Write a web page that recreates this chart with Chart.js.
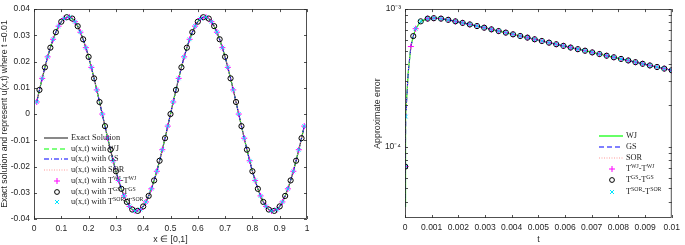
<!DOCTYPE html>
<html><head><meta charset="utf-8">
<script src="https://cdn.jsdelivr.net/npm/chart.js@4/dist/chart.umd.min.js"></script>
<style>
html,body{margin:0;padding:0;background:#fff;}
#wrap{position:relative;width:685px;height:245px;overflow:hidden;background:#fff;}
canvas{position:absolute;top:0;}
.legend{position:absolute;font-family:"Liberation Serif","Times New Roman",serif;font-size:8.3px;color:#262626;}
.row{position:absolute;left:0;height:10px;white-space:nowrap;}
.row svg{position:absolute;left:0;top:0;overflow:visible;}
.row span{position:absolute;top:0;line-height:10px;}
.row sup{font-size:5.8px;line-height:1;vertical-align:3px;}
</style></head>
<body><div id="wrap">
<canvas id="c1" width="340" height="245" style="left:0;width:340px;height:245px"></canvas>
<canvas id="c2" width="340" height="245" style="left:345px;width:340px;height:245px"></canvas>
<div class="legend" id="leg1" style="left:44px;top:133px;"></div>
<div class="legend" id="leg2" style="left:599px;top:131px;"></div>
</div>
<script>
// ---------- left panel data ----------
const xPos = [0.01,0.02,0.03,0.04,0.05,0.06,0.07,0.08,0.09,0.10,0.11,0.12,0.13,0.14,0.15,0.16,0.17,0.18,0.19,0.20,
0.21,0.22,0.23,0.24,0.25,0.26,0.27,0.28,0.29,0.30,0.31,0.32,0.33,0.34,0.35,0.36,0.37,0.38,0.39,0.40,
0.41,0.42,0.43,0.44,0.45,0.46,0.47,0.48,0.49,0.50,0.51,0.52,0.53,0.54,0.55,0.56,0.57,0.58,0.59,0.60,
0.61,0.62,0.63,0.64,0.65,0.66,0.67,0.68,0.69,0.70,0.71,0.72,0.73,0.74,0.75,0.76,0.77,0.78,0.79,0.80,
0.81,0.82,0.83,0.84,0.85,0.86,0.87,0.88,0.89,0.90,0.91,0.92,0.93,0.94,0.95,0.96,0.97,0.98,0.99];
const uExact = [0.0046,0.0092,0.0136,0.0178,0.0218,0.0253,0.0285,0.0312,0.0335,0.0352,0.0364,0.0369,0.0369,0.0364,0.0352,0.0335,0.0312,0.0285,0.0253,0.0218,
0.0178,0.0136,0.0092,0.0046,0,-0.0046,-0.0092,-0.0136,-0.0178,-0.0218,-0.0253,-0.0285,-0.0312,-0.0335,-0.0352,-0.0364,-0.0369,-0.0369,-0.0364,-0.0352,
-0.0335,-0.0312,-0.0285,-0.0253,-0.0218,-0.0178,-0.0136,-0.0092,-0.0046,0,0.0046,0.0092,0.0136,0.0178,0.0218,0.0253,0.0285,0.0312,0.0335,0.0352,
0.0364,0.0369,0.0369,0.0364,0.0352,0.0335,0.0312,0.0285,0.0253,0.0218,0.0178,0.0136,0.0092,0.0046,0,-0.0046,-0.0092,-0.0136,-0.0178,-0.0218,
-0.0253,-0.0285,-0.0312,-0.0335,-0.0352,-0.0364,-0.0369,-0.0369,-0.0364,-0.0352,-0.0335,-0.0312,-0.0285,-0.0253,-0.0218,-0.0178,-0.0136,-0.0092,-0.0046];
const xTicks = [0,0.1,0.2,0.3,0.4,0.5,0.6,0.7,0.8,0.9,1];
const uTicks = [-0.04,-0.03,-0.02,-0.01,0,0.01,0.02,0.03,0.04];

// ---------- right panel data ----------
const tMark = [0.00001,0.00003,0.00022,0.00031,0.0004,0.00059,0.00085,0.00108,0.00135,0.00162,0.00189,0.00216,0.00243,0.0027,0.00297,
0.00324,0.00351,0.00378,0.00405,0.00432,0.00459,0.00486,0.00513,0.0054,0.00567,0.00594,0.00621,0.00648,0.00675,0.00702,
0.00729,0.00756,0.00783,0.0081,0.00837,0.00864,0.00891,0.00918,0.00945,0.00972,0.01];
const errMark = [7.2e-5,1.66e-4,5.35e-4,6.37e-4,7.21e-4,8.15e-4,8.53e-4,8.59e-4,8.53e-4,8.36e-4,8.15e-4,7.94e-4,7.74e-4,7.53e-4,7.33e-4,
7.13e-4,6.93e-4,6.75e-4,6.56e-4,6.38e-4,6.21e-4,6.04e-4,5.87e-4,5.71e-4,5.56e-4,5.41e-4,5.26e-4,5.12e-4,4.99e-4,4.85e-4,
4.72e-4,4.59e-4,4.47e-4,4.35e-4,4.24e-4,4.12e-4,4.01e-4,3.90e-4,3.80e-4,3.70e-4,3.60e-4];
const tLineExtra = [0, 0.00012];
const errLineExtra = [3.7e-5, 3.46e-4];
const plusSkip = [1,3,5];
const circSkip = [1,2,4];
const crossSkip = [2,3];
const tTicks = [0,0.001,0.002,0.003,0.004,0.005,0.006,0.007,0.008,0.009,0.01];

const AX = '#262626';
const GREEN = '#00ff00', BLUE = '#0000ff', PINK = '#ff9a9a', MAG = '#ff00ff', CYAN = '#00e5ff';
const tickFont = {family:'"Liberation Sans", Arial, sans-serif', size:8.5};
const noGrid = {display:false, drawTicks:false, tickLength:0};

const boxPlugin = {
  id:'box',
  afterDraw(chart){
    const {ctx, chartArea:{left,right,top,bottom}, scales:{x,y}} = chart;
    ctx.save();
    ctx.strokeStyle = AX; ctx.lineWidth = 0.8;
    ctx.strokeRect(left+0.5, top+0.5, right-left-1, bottom-top-1);
    const seg=(a,b,c,d)=>{ctx.beginPath();ctx.moveTo(a,b);ctx.lineTo(c,d);ctx.stroke();};
    x.ticks.forEach(t=>{const p=Math.round(x.getPixelForValue(t.value))+0.5; seg(p,bottom,p,bottom-3); seg(p,top,p,top+3);});
    y.ticks.forEach(t=>{
      if (y.type==='logarithmic'){
        const e=Math.floor(Math.log10(t.value)+1e-9); const m=t.value/Math.pow(10,e);
        if (Math.abs(m-Math.round(m))>1e-6) return;
      }
      const p=Math.round(y.getPixelForValue(t.value))+0.5; seg(left,p,left+3,p); seg(right,p,right-3,p);
    });
    ctx.restore();
  }
};

const pts = (xs, ys) => xs.map((v,i)=>({x:v,y:ys[i]}));
const lineDS = (label,data,color,dash,order,w)=>({type:'line',label,data,borderColor:color,borderDash:dash,borderWidth:w||1,pointRadius:0,fill:false,tension:0,order});
const markDS = (label,data,color,style,r,order)=>({type:'scatter',label,data,showLine:false,pointStyle:style,pointRadius:r,pointBorderColor:color,pointBackgroundColor:'rgba(0,0,0,0)',pointBorderWidth:1,order});

// ---------- left chart ----------
const leftLine = pts(xPos,uExact);
new Chart(document.getElementById('c1'),{
  type:'line',
  data:{datasets:[
    lineDS('Exact Solution',leftLine,'#3a3a3a',[],10,1.2),
    lineDS('u(x,t) with WJ',leftLine,GREEN,[5,3],9),
    lineDS('u(x,t) with GS',leftLine,BLUE,[5,2,1,2],8),
    lineDS('u(x,t) with SOR',leftLine,PINK,[1,1.5],7),
    markDS('WJ markers',leftLine.filter((p,i)=>i%2===0),MAG,'cross',3,3),
    markDS('GS markers',leftLine.filter((p,i)=>i%2===1),'#000','circle',2.6,2),
    markDS('SOR markers',leftLine.filter((p,i)=>i%2===0),CYAN,'crossRot',2.6,1)
  ]},
  options:{
    responsive:false,animation:false,devicePixelRatio:1,
    layout:{padding:{top:4,right:33,left:0,bottom:0}},
    plugins:{legend:{display:false},tooltip:{enabled:false}},
    scales:{
      x:{type:'linear',min:0,max:1,afterFit:s=>{s.height=26;},
        afterBuildTicks:s=>{s.ticks=xTicks.map(v=>({value:v}));},
        grid:noGrid,border:{display:false},
        ticks:{color:AX,font:tickFont,padding:5,maxRotation:0,autoSkip:false,callback:v=>String(+v.toFixed(2))},
        title:{display:true,text:'x \u2208 [0,1]',color:AX,font:{family:tickFont.family,size:8.8,lineHeight:1},padding:{top:0,bottom:1}}},
      y:{type:'linear',min:-0.04,max:0.04,afterFit:s=>{s.width=34;},
        afterBuildTicks:s=>{s.ticks=uTicks.map(v=>({value:v}));},
        grid:noGrid,border:{display:false},
        ticks:{color:AX,font:tickFont,padding:4,autoSkip:false,callback:v=>String(+v.toFixed(2))},
        title:{display:true,text:'Exact solution and represent u(x,t) where t =0.01',color:AX,font:{family:tickFont.family,size:8.7,lineHeight:1},padding:{top:0,bottom:0}}}
    }
  },
  plugins:[boxPlugin]
});

// ---------- right chart ----------
const markPts = pts(tMark,errMark);
const rightLine = markPts.concat(pts(tLineExtra,errLineExtra)).sort((a,b)=>a.x-b.x);
const supMap = {'-':'\u207B','0':'\u2070','1':'\u00B9','2':'\u00B2','3':'\u00B3','4':'\u2074','5':'\u2075','6':'\u2076','7':'\u2077','8':'\u2078','9':'\u2079'};
new Chart(document.getElementById('c2'),{
  type:'line',
  data:{datasets:[
    lineDS('WJ',rightLine,GREEN,[],9,1.2),
    lineDS('GS',rightLine,BLUE,[5,3],8),
    lineDS('SOR',rightLine,PINK,[1,1.5],7),
    markDS('TWJ',markPts.filter((p,i)=>!plusSkip.includes(i)),MAG,'cross',3,3),
    markDS('TGS',markPts.filter((p,i)=>!circSkip.includes(i)),'#000','circle',2.6,2),
    markDS('TSOR',markPts.filter((p,i)=>!crossSkip.includes(i)),CYAN,'crossRot',2.6,1)
  ]},
  options:{
    responsive:false,animation:false,devicePixelRatio:1,
    layout:{padding:{top:5,right:7,left:0,bottom:0}},
    plugins:{legend:{display:false},tooltip:{enabled:false}},
    scales:{
      x:{type:'linear',min:0,max:0.01,afterFit:s=>{s.height=27;},
        afterBuildTicks:s=>{s.ticks=tTicks.map(v=>({value:v}));},
        grid:noGrid,border:{display:false},
        ticks:{color:AX,font:tickFont,padding:5,maxRotation:0,autoSkip:false,callback:v=>String(+v.toFixed(3))},
        title:{display:true,text:'t',color:AX,font:{family:tickFont.family,size:8.8,lineHeight:1},padding:{top:0,bottom:1}}},
      y:{type:'logarithmic',min:3.05e-5,max:1e-3,afterFit:s=>{s.width=60;},
        grid:noGrid,border:{display:false},
        ticks:{color:AX,font:tickFont,padding:4,autoSkip:false,
          callback:v=>{const l=Math.log10(v); if(Math.abs(l-Math.round(l))<1e-6){return '10'+String(Math.round(l)).split('').map(c=>supMap[c]).join('');} return '';}},
        title:{display:true,text:'Approximate error',color:AX,font:{family:tickFont.family,size:8.8,lineHeight:1},padding:{top:28,bottom:0}}}
    }
  },
  plugins:[boxPlugin]
});

// ---------- legends (HTML text) ----------
function sym(kind,color,dash){
  if(kind==='line') return `<svg width="26" height="10"><line x1="0" y1="5" x2="24" y2="5" stroke="${color}" stroke-width="1.2" ${dash?`stroke-dasharray="${dash}"`:''}/></svg>`;
  if(kind==='plus') return `<svg width="26" height="10"><path d="M13 2V8M10 5H16" stroke="${color}" stroke-width="1"/></svg>`;
  if(kind==='circ') return `<svg width="26" height="10"><circle cx="13" cy="5" r="2.4" fill="none" stroke="${color}" stroke-width="1"/></svg>`;
  return `<svg width="26" height="10"><path d="M11 3L15 7M15 3L11 7" stroke="${color}" stroke-width="1"/></svg>`;
}
function buildLegend(id, items, step, textLeft){
  const el=document.getElementById(id);
  el.innerHTML = items.map((it,i)=>`<div class="row" style="top:${(i*step).toFixed(1)}px">${sym(it[0],it[1],it[2])}<span style="left:${textLeft}px">${it[3]}</span></div>`).join('');
}
buildLegend('leg1',[
  ['line','#3a3a3a','','Exact Solution'],
  ['line',GREEN,'5 3','u(x,t) with WJ'],
  ['line',BLUE,'5 2 1 2','u(x,t) with GS'],
  ['line',PINK,'1 1.5','u(x,t) with SOR'],
  ['plus',MAG,'','u(x,t) with T<sup>WJ</sup>-T<sup>WJ</sup>'],
  ['circ','#000','','u(x,t) with T<sup>GS</sup>-T<sup>GS</sup>'],
  ['cross',CYAN,'','u(x,t) with T<sup>SOR</sup>-T<sup>SOR</sup>']
],10.7,27);
buildLegend('leg2',[
  ['line',GREEN,'','WJ'],
  ['line',BLUE,'5 3','GS'],
  ['line',PINK,'1 1.5','SOR'],
  ['plus',MAG,'','T<sup>WJ</sup>-T<sup>WJ</sup>'],
  ['circ','#000','','T<sup>GS</sup>-T<sup>GS</sup>'],
  ['cross',CYAN,'','T<sup>SOR</sup>-T<sup>SOR</sup>']
],11.1,27);
</script>
</body></html>
